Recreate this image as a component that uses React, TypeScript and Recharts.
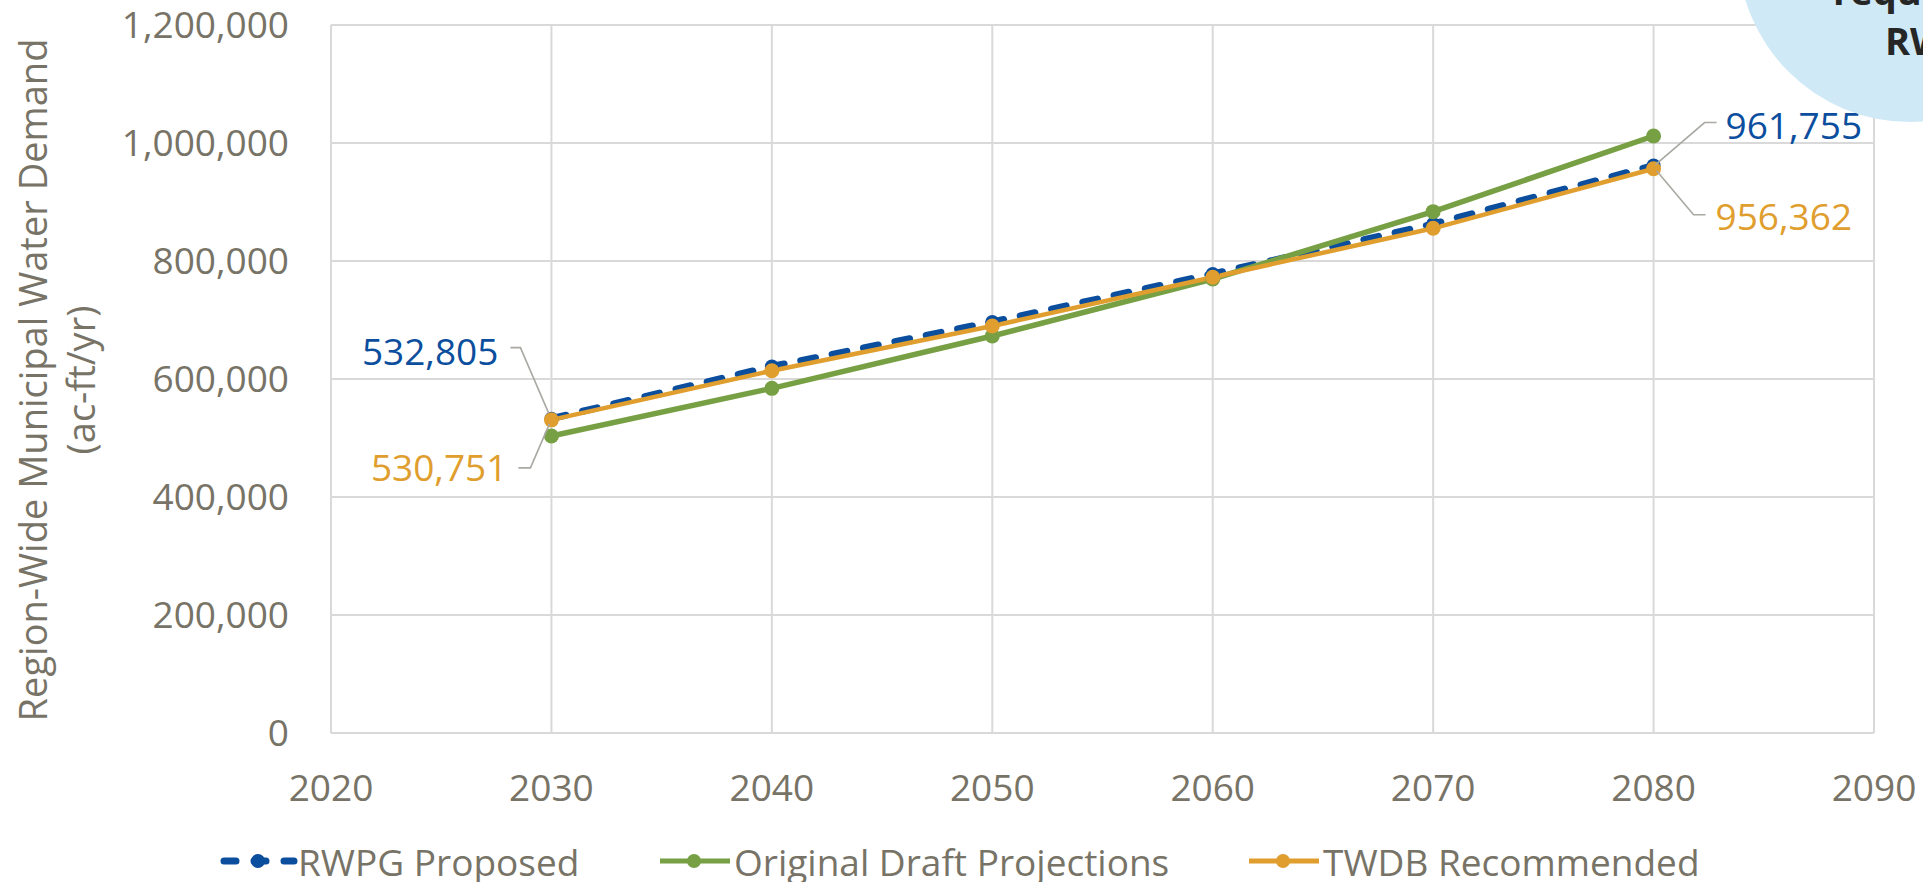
import React from "react";
import { LineChart, Line, XAxis, YAxis, CartesianGrid, LabelList } from "recharts";

const years = [2030, 2040, 2050, 2060, 2070, 2080];
const rwpgProposed = [532805, 621200, 696600, 778000, 862700, 961755];
const originalDraft = [503400, 584200, 672900, 769500, 883600, 1011900];
const twdbRecommended = [530751, 614100, 689800, 772400, 855400, 956362];

const xTicks = [2020, 2030, 2040, 2050, 2060, 2070, 2080, 2090];
const yTicks = [0, 200000, 400000, 600000, 800000, 1000000, 1200000];

const seriesNames = ["RWPG Proposed", "Original Draft Projections", "TWDB Recommended"];
const titleLines = ["Region-Wide Municipal Water Demand", "(ac-ft/yr)"];
const bubbleLines = ["requested", "RWPG"];

const data = years.map((year, i) => ({
  year,
  rwpg: rwpgProposed[i],
  draft: originalDraft[i],
  twdb: twdbRecommended[i],
}));

const FONT = "'Open Sans', 'Noto Sans', sans-serif";
const TEXT = "#777366";
const GRID = "#d9d9d9";
const BLUE = "#0b4e9e";
const GREEN = "#77a044";
const ORANGE = "#e09e2e";
const LEADER = "#aaa8a2";

const fmt = (v: number) => v.toLocaleString("en-US");

// leader-line callouts, only on the first and last point of two series
function calloutFor(color: string, side: "above" | "below") {
  return (props: any) => {
    const { x, y, index, value } = props;
    if (index !== 0 && index !== years.length - 1) return null;
    const last = index === years.length - 1;
    let pts: number[][];
    let tx: number;
    let ty: number;
    let anchor: "start" | "end";
    if (!last && side === "above") {
      pts = [[x - 41, y - 71], [x - 31, y - 71], [x - 3, y - 6]];
      tx = x - 53; ty = y - 67; anchor = "end";
    } else if (!last) {
      pts = [[x - 33, y + 48], [x - 21, y + 48], [x - 2, y + 4]];
      tx = x - 44; ty = y + 48; anchor = "end";
    } else if (side === "above") {
      pts = [[x + 63, y - 43], [x + 51, y - 43], [x + 2, y - 1]];
      tx = x + 72; ty = y - 40; anchor = "start";
    } else {
      pts = [[x + 52, y + 46], [x + 40, y + 46], [x + 3, y + 2]];
      tx = x + 62; ty = y + 48; anchor = "start";
    }
    return (
      <g>
        <polyline
          points={pts.map((p) => p.join(",")).join(" ")}
          fill="none"
          stroke={LEADER}
          strokeWidth={1.6}
        />
        <text
          x={tx}
          y={ty}
          dy="0.35em"
          textAnchor={anchor}
          fill={color}
          fontSize={37}
          fontFamily={FONT}
        >
          {fmt(value)}
        </text>
      </g>
    );
  };
}

function AxisTitle() {
  const cy = 380;
  return (
    <g>
      <text
        x={47}
        y={cy}
        transform={`rotate(-90 47 ${cy})`}
        textAnchor="middle"
        fill={TEXT}
        fontSize={38}
        fontFamily={FONT}
      >
        {titleLines[0]}
      </text>
      <text
        x={95}
        y={cy}
        transform={`rotate(-90 95 ${cy})`}
        textAnchor="middle"
        fill={TEXT}
        fontSize={38}
        fontFamily={FONT}
      >
        {titleLines[1]}
      </text>
    </g>
  );
}

function LegendIcon({ color, dashed }: { color: string; dashed?: boolean }) {
  return (
    <svg width={78} height={20} style={{ display: "block" }}>
      <line
        x1={4}
        y1={10}
        x2={74}
        y2={10}
        stroke={color}
        strokeWidth={dashed ? 7 : 5}
        strokeLinecap={dashed ? "round" : "butt"}
        strokeDasharray={dashed ? "12 18" : undefined}
      />
      <circle cx={38} cy={10} r={7} fill={color} />
    </svg>
  );
}

const legendItems = [
  { left: 220, color: BLUE, dashed: true },
  { left: 656, color: GREEN },
  { left: 1245, color: ORANGE },
];

export default function App() {
  return (
    <div
      style={{
        position: "absolute",
        left: 0,
        top: 0,
        width: 1923,
        height: 882,
        overflow: "hidden",
        background: "#fff",
        fontFamily: FONT,
      }}
    >
      <LineChart
        width={1923}
        height={882}
        data={data}
        margin={{ top: 25, right: 49, bottom: 0, left: 0 }}
      >
        <CartesianGrid stroke={GRID} strokeWidth={2} />
        <XAxis
          type="number"
          dataKey="year"
          domain={[2020, 2090]}
          ticks={xTicks}
          height={149}
          axisLine={{ stroke: GRID, strokeWidth: 2 }}
          tickLine={false}
          tickSize={0}
          tickMargin={42}
          tick={{ fill: TEXT, fontSize: 37, fontFamily: FONT }}
        />
        <YAxis
          type="number"
          domain={[0, 1200000]}
          ticks={yTicks}
          width={331}
          axisLine={{ stroke: GRID, strokeWidth: 2 }}
          tickLine={false}
          tickSize={0}
          tickMargin={42}
          tickFormatter={fmt}
          tick={{ fill: TEXT, fontSize: 37, fontFamily: FONT }}
          label={{ content: AxisTitle }}
        />
        <Line
          dataKey="rwpg"
          name={seriesNames[0]}
          stroke={BLUE}
          strokeWidth={7}
          strokeDasharray="15 17"
          strokeLinecap="round"
          dot={{ r: 7, fill: BLUE, stroke: "none" }}
          isAnimationActive={false}
        >
          <LabelList dataKey="rwpg" content={calloutFor(BLUE, "above")} />
        </Line>
        <Line
          dataKey="draft"
          name={seriesNames[1]}
          stroke={GREEN}
          strokeWidth={5.5}
          dot={{ r: 7.5, fill: GREEN, stroke: "none" }}
          isAnimationActive={false}
        />
        <Line
          dataKey="twdb"
          name={seriesNames[2]}
          stroke={ORANGE}
          strokeWidth={4.5}
          dot={{ r: 7.5, fill: ORANGE, stroke: "none" }}
          isAnimationActive={false}
        >
          <LabelList dataKey="twdb" content={calloutFor(ORANGE, "below")} />
        </Line>
      </LineChart>

      {legendItems.map((item, i) => (
        <div
          key={i}
          style={{
            position: "absolute",
            left: item.left,
            top: 842,
            height: 38,
            display: "flex",
            alignItems: "center",
            color: TEXT,
            fontSize: 37,
            lineHeight: 1,
            whiteSpace: "nowrap",
          }}
        >
          <LegendIcon color={item.color} dashed={item.dashed} />
          <span>{seriesNames[i]}</span>
        </div>
      ))}

      <svg
        width={1923}
        height={882}
        style={{ position: "absolute", left: 0, top: 0, pointerEvents: "none" }}
      >
        <circle cx={1910} cy={-50} r={172} fill="#cfe9f7" />
        <text x={1833} y={5} fill="#262626" fontSize={38} fontWeight={700} fontFamily={FONT}>
          {bubbleLines[0]}
        </text>
        <text x={1885} y={55} fill="#262626" fontSize={38} fontWeight={700} fontFamily={FONT}>
          {bubbleLines[1]}
        </text>
      </svg>
    </div>
  );
}
